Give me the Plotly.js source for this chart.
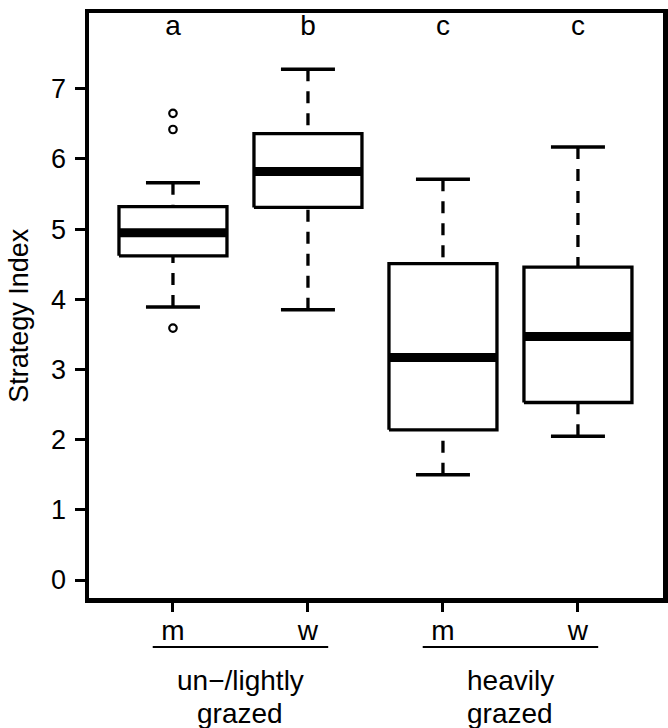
<!DOCTYPE html>
<html>
<head>
<meta charset="utf-8">
<script src="https://cdn.plot.ly/plotly-3.0.1.min.js"></script>
<style>html,body{margin:0;padding:0;background:#fff;}#chart{width:668px;height:728px;}</style>
</head>
<body>
<div id="chart"></div>
<script>
// ---- data ----
const positions = [1, 2, 3, 4];
const sexLabels = ['m', 'w', 'm', 'w'];
const grazingLine1 = ['un\u2212/lightly', 'heavily'];
const grazingLine2 = ['grazed', 'grazed'];
const grazingCenters = [1.5, 3.5];
const lowerWhisker = [3.89, 3.85, 1.50, 2.05];
const q1 = [4.62, 5.31, 2.14, 2.53];
const median = [4.95, 5.82, 3.17, 3.47];
const q3 = [5.32, 6.36, 4.51, 4.46];
const upperWhisker = [5.66, 7.28, 5.71, 6.17];
const outlierPos = [1, 1, 1];
const outlierValues = [6.65, 6.42, 3.59];
const letters = ['a', 'b', 'c', 'c'];
const letterY = 7.87;
const yTicks = [0, 1, 2, 3, 4, 5, 6, 7];

// ---- build traces ----
const FONT = 'Liberation Sans, Arial, Helvetica, sans-serif';
const halfBox = 0.4, halfCap = 0.2;
const traces = [];

// box bodies
positions.forEach((p, i) => {
  traces.push({
    type: 'scatter', mode: 'lines',
    x: [p - halfBox, p + halfBox, p + halfBox, p - halfBox, p - halfBox],
    y: [q1[i], q1[i], q3[i], q3[i], q1[i]],
    fill: 'toself', fillcolor: '#ffffff',
    line: {color: '#000', width: 3.3},
    hoverinfo: 'skip'
  });
});

// dashed whiskers (drawn from the whisker end toward the hinge)
const wx = [], wy = [];
positions.forEach((p, i) => {
  wx.push(p, p, null, p, p, null);
  wy.push(upperWhisker[i], q3[i], null, lowerWhisker[i], q1[i], null);
});
traces.push({type: 'scatter', mode: 'lines', x: wx, y: wy,
  line: {color: '#000', width: 3.3, dash: '12px,10px'}, hoverinfo: 'skip'});

// caps
const cx = [], cy = [];
positions.forEach((p, i) => {
  cx.push(p - halfCap, p + halfCap, null, p - halfCap, p + halfCap, null);
  cy.push(upperWhisker[i], upperWhisker[i], null, lowerWhisker[i], lowerWhisker[i], null);
});
traces.push({type: 'scatter', mode: 'lines', x: cx, y: cy,
  line: {color: '#000', width: 3.5}, hoverinfo: 'skip'});

// medians
const mx = [], my = [];
positions.forEach((p, i) => {
  mx.push(p - halfBox, p + halfBox, null);
  my.push(median[i], median[i], null);
});
traces.push({type: 'scatter', mode: 'lines', x: mx, y: my,
  line: {color: '#000', width: 9}, hoverinfo: 'skip'});

// outliers
traces.push({type: 'scatter', mode: 'markers', x: outlierPos, y: outlierValues,
  marker: {symbol: 'circle-open', size: 7.5, color: '#000', line: {width: 2.2, color: '#000'}},
  hoverinfo: 'skip'});

// significance letters
traces.push({type: 'scatter', mode: 'text', x: positions, y: positions.map(() => letterY),
  text: letters, textposition: 'middle center',
  textfont: {family: FONT, size: 28, color: '#000'}, hoverinfo: 'skip'});

// ---- layout ----
const shapes = grazingCenters.map(c => ({
  type: 'line', xref: 'x', yref: 'paper',
  x0: c - 0.5 - 0.15, x1: c + 0.5 + 0.15, y0: -0.0838, y1: -0.0838,
  line: {color: '#000', width: 2}
}));

const annotations = [];
grazingCenters.forEach((c, i) => {
  annotations.push({
    xref: 'x', yref: 'paper', x: c, y: -0.1116, yanchor: 'top', xanchor: 'center',
    text: grazingLine1[i], showarrow: false,
    font: {family: FONT, size: 28, color: '#000'}
  });
  annotations.push({
    xref: 'x', yref: 'paper', x: c, y: -0.168, yanchor: 'top', xanchor: 'center',
    text: grazingLine2[i], showarrow: false,
    font: {family: FONT, size: 28, color: '#000'}
  });
});
annotations.push({
  xref: 'paper', yref: 'paper', x: -0.122, y: 0.484, xanchor: 'center', yanchor: 'middle',
  text: 'Strategy Index', textangle: -90, showarrow: false,
  font: {family: FONT, size: 27, color: '#000'}
});

const layout = {
  width: 668, height: 728,
  margin: {l: 89, r: 5, t: 13, b: 130},
  paper_bgcolor: '#fff', plot_bgcolor: '#fff',
  showlegend: false, hovermode: false,
  xaxis: {
    range: [0.378, 4.63], tickvals: positions, ticktext: sexLabels,
    showgrid: false, zeroline: false, showline: true, mirror: true,
    linecolor: '#000', linewidth: 4.5,
    ticks: 'outside', ticklen: 9, tickwidth: 3, tickcolor: '#000',
    ticklabelstandoff: -5,
    tickfont: {family: FONT, size: 28, color: '#000'}
  },
  yaxis: {
    range: [-0.256, 8.08], tickvals: yTicks,
    showgrid: false, zeroline: false, showline: true, mirror: true,
    linecolor: '#000', linewidth: 4.5,
    ticks: 'outside', ticklen: 10, tickwidth: 3, tickcolor: '#000',
    ticklabelstandoff: 3,
    tickfont: {family: FONT, size: 27, color: '#000'}
  },
  shapes: shapes,
  annotations: annotations
};

Plotly.newPlot('chart', traces, layout, {displayModeBar: false, staticPlot: true});
</script>
</body>
</html>
